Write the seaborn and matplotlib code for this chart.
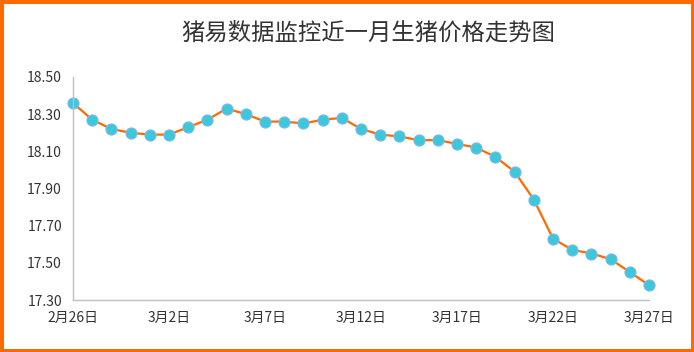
import matplotlib
matplotlib.use("Agg")
import matplotlib.pyplot as plt
import seaborn as sns
import pandas as pd

# --------------------------------------
# data (2024-02-26 .. 2024-03-27)
# --------------------------------------
dates = pd.date_range("2024-02-26", "2024-03-27", freq="D")
prices = [18.36, 18.27, 18.22, 18.20, 18.19, 18.19, 18.23, 18.27, 18.33, 18.30,
          18.26, 18.26, 18.25, 18.27, 18.28, 18.22, 18.19, 18.18, 18.16, 18.16,
          18.14, 18.12, 18.07, 17.99, 17.84, 17.63, 17.57, 17.55, 17.52, 17.45,
          17.38]
tick_every = 5
y_ticks = [17.30, 17.50, 17.70, 17.90, 18.10, 18.30, 18.50]
title = "猪易数据监控近一月生猪价格走势图"

labels = [f"{d.month}月{d.day}日" for d in dates]
df = pd.DataFrame({"idx": range(len(prices)), "price": prices})

# --------------------------------------
# plot
# --------------------------------------
sns.set_style("white")
plt.rcParams["font.family"] = ["Noto Sans CJK SC", "DejaVu Sans"]

fig = plt.figure(figsize=(6.94, 3.52), dpi=100)
fig.patch.set_edgecolor("#FF6A00")
fig.patch.set_linewidth(5)
ax = fig.add_axes([0.1052, 0.1477, 0.8300, 0.6336])

sns.lineplot(data=df, x="idx", y="price", ax=ax, color="#FF6A00", linewidth=1.6,
             marker="o", markersize=8, markerfacecolor="#3CC8D8",
             markeredgecolor="#7FB8F0", markeredgewidth=0.8, clip_on=False)

ax.set_xlim(0, len(prices) - 1)
ax.set_ylim(17.30, 18.50)
ax.set_yticks(y_ticks)
ax.set_yticklabels([f"{v:.2f}" for v in y_ticks])
xt = list(range(0, len(prices), tick_every))
ax.set_xticks(xt)
ax.set_xticklabels([labels[i] for i in xt])
ax.set_xlabel("")
ax.set_ylabel("")
ax.tick_params(length=0, colors="#333333", labelsize=10)
ax.tick_params(axis="y", pad=8)
ax.tick_params(axis="x", pad=8)

for s in ["top", "right"]:
    ax.spines[s].set_visible(False)
for s in ["left", "bottom"]:
    ax.spines[s].set_color("#C0C0C0")
    ax.spines[s].set_linewidth(1)

fig.text(0.531, 0.905, title, ha="center", va="center", fontsize=16.8, color="#333333")

fig.savefig("out.png", dpi=100)
